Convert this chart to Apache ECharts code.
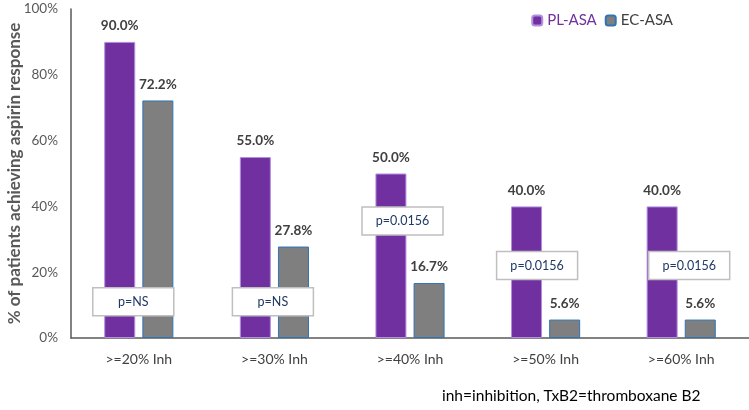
<!DOCTYPE html>
<html><head><meta charset="utf-8">
<script src="https://cdn.jsdelivr.net/npm/echarts@6/dist/echarts.min.js"></script>
<style>html,body{margin:0;padding:0;background:#fff}#c{width:749px;height:410px}</style>
</head><body><div id="c"></div>
<script>
const categories = ['>=20% Inh', '>=30% Inh', '>=40% Inh', '>=50% Inh', '>=60% Inh'];
const plAsa = [90.0, 55.0, 50.0, 40.0, 40.0];
const ecAsa = [72.2, 27.8, 16.7, 5.6, 5.6];
const pLabels = ['p=NS', 'p=NS', 'p=0.0156', 'p=0.0156', 'p=0.0156'];
const pLevels = [11, 11, 35.6, 22, 22];
const yTicks = [0, 20, 40, 60, 80, 100];

const FONT = 'Lato, "Open Sans", sans-serif';
const chart = echarts.init(document.getElementById('c'), null, {renderer: 'canvas'});
chart.setOption({
  animation: false,
  textStyle: {fontFamily: FONT},
  grid: {left: 71, right: 0, top: 9, bottom: 72, containLabel: false, outerBoundsMode: 'none'},
  legend: {
    right: 71, top: 8, itemWidth: 10, itemHeight: 10, itemGap: 8,
    textStyle: {fontSize: 15, fontFamily: FONT},
    data: [
      {name: 'PL-ASA', textStyle: {color: '#7030a0'}},
      {name: 'EC-ASA', textStyle: {color: '#404040'}}
    ]
  },
  xAxis: {
    type: 'category', data: categories,
    axisLine: {lineStyle: {color: '#595959', width: 1.5}},
    axisTick: {show: false},
    axisLabel: {color: '#404040', fontSize: 14, margin: 14, fontFamily: FONT}
  },
  yAxis: {
    type: 'value', min: 0, max: 100, interval: 20,
    name: '% of patients achieving aspirin response',
    nameLocation: 'middle', nameGap: 48, nameRotate: 90, nameMoveOverlap: false,
    nameTextStyle: {color: '#595959', fontSize: 17, fontWeight: 'bold', fontFamily: FONT},
    axisLine: {show: true, lineStyle: {color: '#595959', width: 1.5}},
    axisTick: {show: false},
    splitLine: {show: false},
    axisLabel: {color: '#595959', fontSize: 13.5, margin: 13, fontFamily: FONT,
      formatter: v => yTicks.includes(v) ? v + '%' : ''}
  },
  series: [
    {
      name: 'PL-ASA', type: 'bar', data: plAsa, barWidth: 31, barGap: '23%',
      itemStyle: {color: '#7030a0', borderColor: '#b48ee0', borderWidth: 1},
      label: {show: true, position: 'top', distance: 9, color: '#404040', fontWeight: 'bold', fontSize: 13.5,
        formatter: p => p.value.toFixed(1) + '%'}
    },
    {
      name: 'EC-ASA', type: 'bar', data: ecAsa, barWidth: 31, barGap: '23%',
      itemStyle: {color: '#7f7f7f', borderColor: '#2e75b6', borderWidth: 1},
      label: {show: true, position: 'top', distance: 9, color: '#404040', fontWeight: 'bold', fontSize: 13.5,
        formatter: p => p.value.toFixed(1) + '%'}
    }
  ]
});

const pOffsetX = [-5.5, -1.5, -7.5, -8.5, 8];
const boxW = 81, boxH = 28;
const graphics = [];
pLabels.forEach((t, i) => {
  const pt = chart.convertToPixel({xAxisIndex: 0, yAxisIndex: 0}, [i, pLevels[i]]);
  const cx = pt[0] + pOffsetX[i], cy = pt[1];
  graphics.push({type: 'rect', z: 100,
    shape: {x: cx - boxW / 2, y: cy - boxH / 2, width: boxW, height: boxH},
    style: {fill: '#ffffff', stroke: '#bfbfbf', lineWidth: 1.5}});
  graphics.push({type: 'text', z: 101, x: cx, y: cy,
    style: {text: t, fill: '#1f3864', fontSize: 12.5, fontFamily: FONT, align: 'center', verticalAlign: 'middle'}});
});
graphics.push({
  type: 'text', left: 442, top: 388,
  style: {text: 'inh=inhibition, TxB2=thromboxane B2', fill: '#000', fontSize: 15.5, fontFamily: FONT}
});
chart.setOption({graphic: graphics});
</script></body></html>
